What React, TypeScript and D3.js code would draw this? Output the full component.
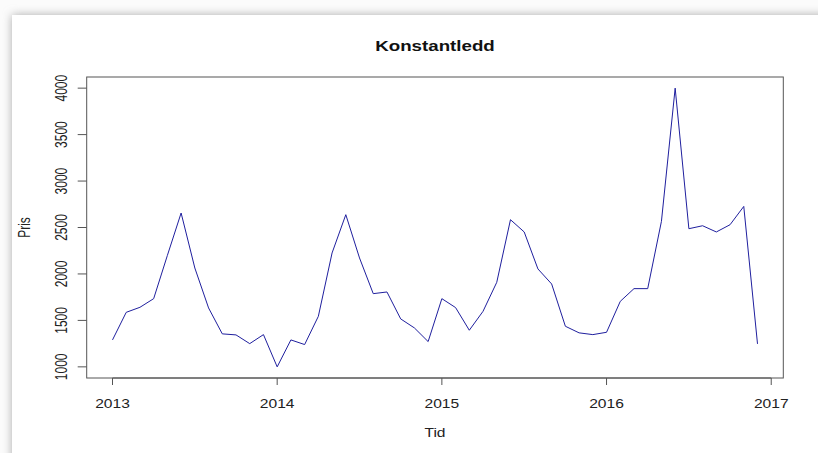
import React from "react";
import { scaleLinear, line, extent } from "d3";

// monthly series, starts Jan 2013
const startYear = 2013;
const pris = [
  1290, 1587, 1641, 1734, 2200, 2656, 2064, 1634, 1355, 1344, 1250, 1347,
  1000, 1290, 1240, 1544, 2226, 2638, 2172, 1788, 1806, 1516, 1419, 1272,
  1734, 1638, 1394, 1598, 1910, 2584, 2452, 2054, 1892, 1437, 1366, 1347,
  1372, 1705, 1842, 1842, 2566, 4000, 2487, 2519, 2452, 2530, 2727, 1247,
];
const xTicks = [2013, 2014, 2015, 2016, 2017];
const yTicks = [1000, 1500, 2000, 2500, 3000, 3500, 4000];
const title = "Konstantledd";
const xLabel = "Tid";
const yLabel = "Pris";

const W = 818;
const H = 453;
const box = { left: 86.7, right: 783.3, top: 77, bottom: 378 };
const SX = 1.3; // the screenshot is stretched sideways
const font = "'Liberation Sans', Arial, sans-serif";
const ink = "#222";

const App = () => {
  const series = pris.map((v, i) => ({ t: startYear + i / 12, v }));
  const [t0, t1] = extent(series, (d) => d.t) as [number, number];
  const [v0, v1] = extent(series, (d) => d.v) as [number, number];
  const px = (t1 - t0) * 0.04;
  const py = (v1 - v0) * 0.04;

  const x = scaleLinear().domain([t0 - px, t1 + px]).range([box.left, box.right]);
  const y = scaleLinear().domain([v0 - py, v1 + py]).range([box.bottom, box.top]);

  const path = line<{ t: number; v: number }>()
    .x((d) => x(d.t))
    .y((d) => y(d.v))(series);

  const midX = (box.left + box.right) / 2;
  const midY = (box.top + box.bottom) / 2;

  return (
    <svg
      width={W}
      height={H}
      style={{ position: "absolute", left: 0, top: 0, background: "#fbfbfb" }}
    >
      <defs>
        <filter id="shadow" x="-5%" y="-5%" width="110%" height="110%">
          <feGaussianBlur stdDeviation="5" />
        </filter>
      </defs>
      <rect x={12} y={15} width={W + 20} height={H + 20} fill="#aaa" filter="url(#shadow)" />
      <rect x={12} y={15} width={W} height={H} fill="#fff" />

      <text
        transform={`translate(${midX},51) scale(${SX},1)`}
        textAnchor="middle"
        fontFamily={font}
        fontWeight="bold"
        fontSize={14.4}
        fill="#111"
      >
        {title}
      </text>

      <rect
        x={box.left}
        y={box.top}
        width={box.right - box.left}
        height={box.bottom - box.top}
        fill="none"
        stroke="#555"
        strokeWidth={1}
      />

      <path d={path || ""} fill="none" stroke="#1f1f9e" strokeWidth={1} />

      {/* x axis */}
      <line x1={x(xTicks[0])} x2={x(xTicks[xTicks.length - 1])} y1={box.bottom} y2={box.bottom} stroke="#555" />
      {xTicks.map((t) => (
        <g key={t}>
          <line x1={x(t)} x2={x(t)} y1={box.bottom} y2={box.bottom + 7} stroke="#555" />
          <text
            transform={`translate(${x(t)},408) scale(${SX},1)`}
            textAnchor="middle"
            fontFamily={font}
            fontSize={12}
            fill={ink}
          >
            {t}
          </text>
        </g>
      ))}

      {/* y axis */}
      {yTicks.map((v) => (
        <g key={v}>
          <line x1={box.left - 9} x2={box.left} y1={y(v)} y2={y(v)} stroke="#555" />
          <text
            transform={`translate(67,${y(v)}) scale(${SX},1) rotate(-90)`}
            textAnchor="middle"
            fontFamily={font}
            fontSize={12}
            fill={ink}
          >
            {v}
          </text>
        </g>
      ))}

      <text
        transform={`translate(${midX},437) scale(${SX},1)`}
        textAnchor="middle"
        fontFamily={font}
        fontSize={12}
        fill={ink}
      >
        {xLabel}
      </text>
      <text
        transform={`translate(30,${midY}) scale(${SX},1) rotate(-90)`}
        textAnchor="middle"
        fontFamily={font}
        fontSize={12}
        fill={ink}
      >
        {yLabel}
      </text>
    </svg>
  );
};

export default App;
